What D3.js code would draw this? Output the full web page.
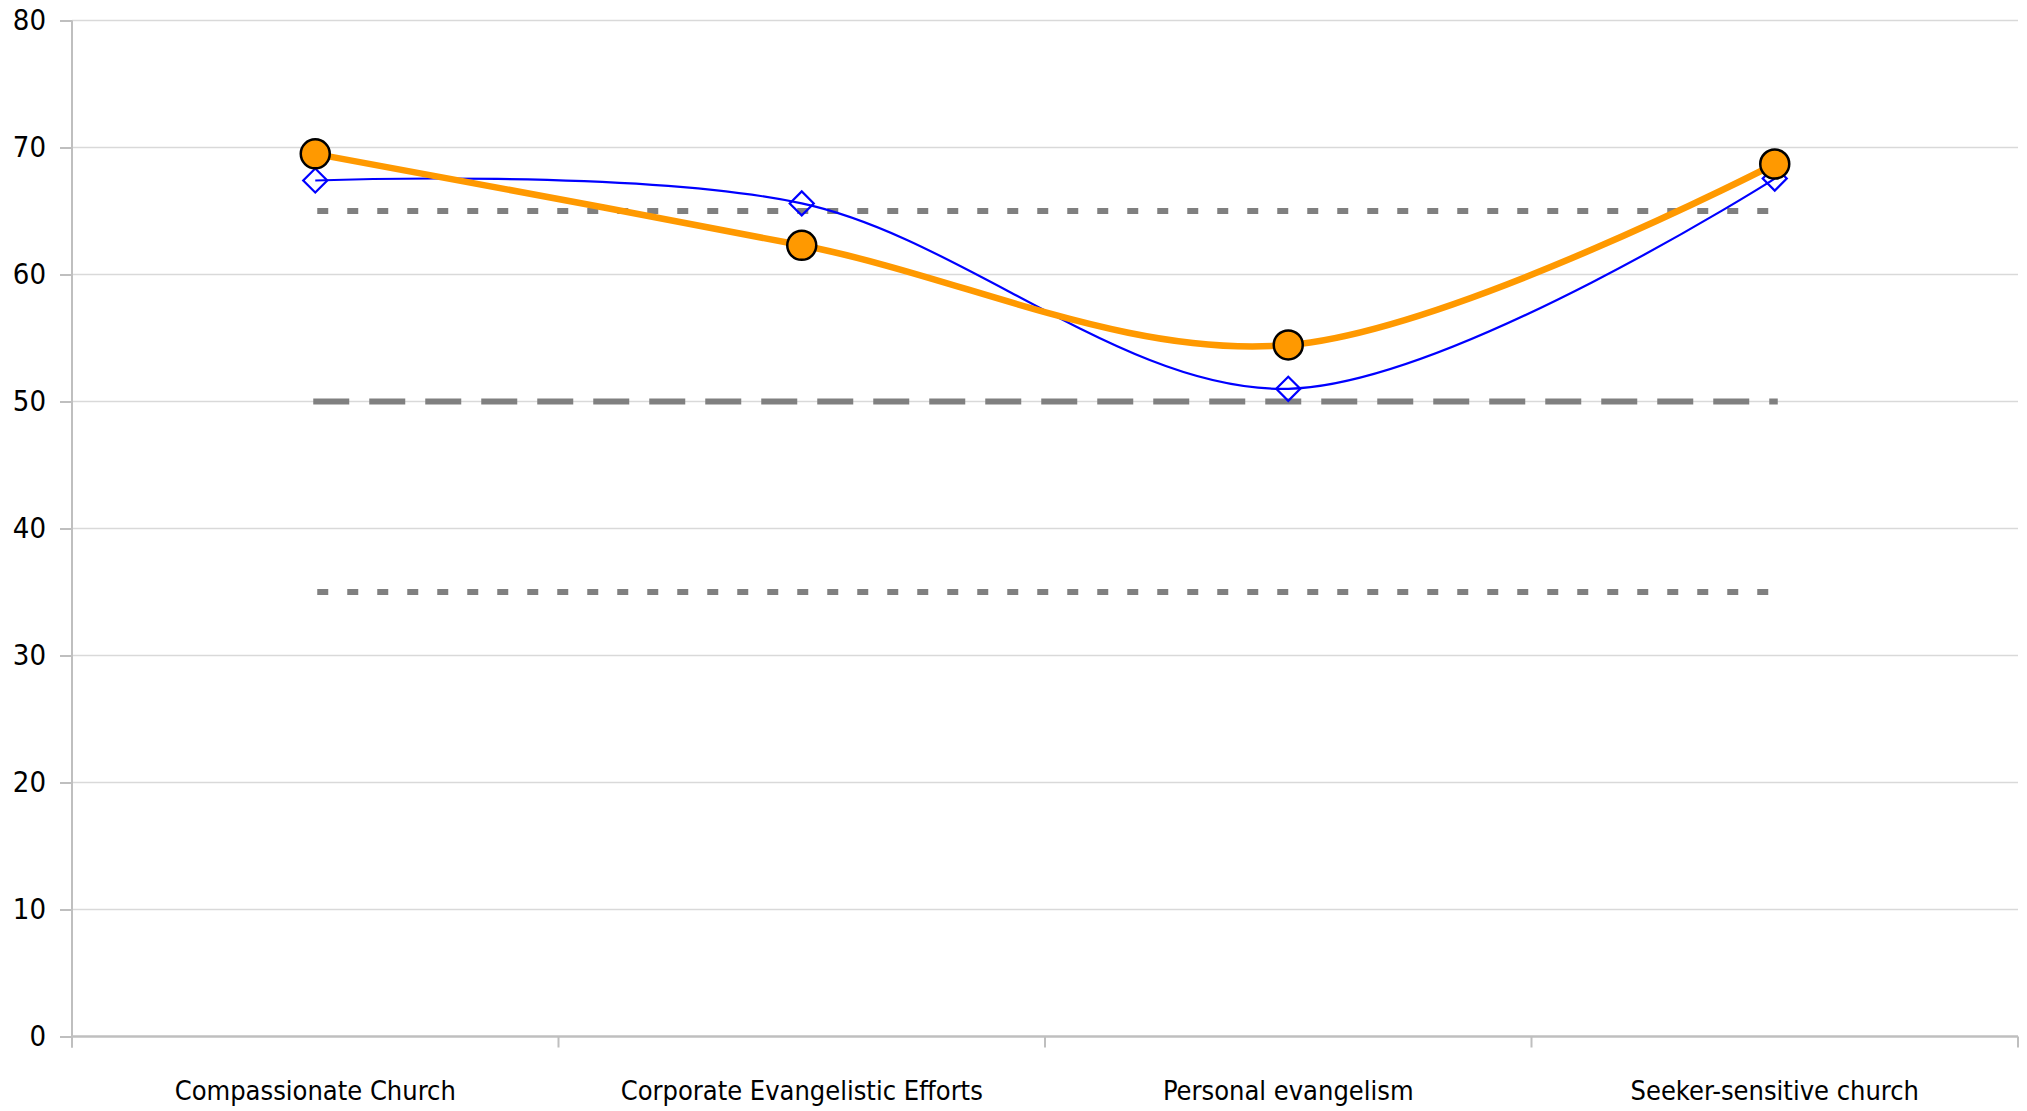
<!DOCTYPE html>
<html><head><meta charset="utf-8">
<script src="https://cdn.jsdelivr.net/npm/d3@7"></script>
<style>
html,body{margin:0;padding:0;background:#fff;}
text{font-family:"DejaVu Sans Condensed","DejaVu Sans",sans-serif;fill:#000;}
</style></head>
<body><svg id="c" width="2027" height="1111"></svg>
<script>
const categories = ["Compassionate Church","Corporate Evangelistic Efforts","Personal evangelism","Seeker-sensitive church"];
const orangeValues = [69.5, 62.3, 54.45, 68.7];
const blueValues = [67.4, 65.6, 51.0, 67.55];
const refDotted = [65, 35];
const refDashed = [50];
const yTicks = [0,10,20,30,40,50,60,70,80];

(function(){
const svg = d3.select("#c");
const pLeft = 72, pRight = 2018, pTop = 20.5, pBottom = 1036.5;
const x = d3.scaleBand().domain(categories).range([pLeft, pRight]);
const y = d3.scaleLinear().domain([0, 80]).range([pBottom, pTop]);
const cx = d => x(d) + x.bandwidth()/2;

svg.append("g").selectAll("line").data(yTicks.filter(t=>t>0)).join("line")
  .attr("x1", pLeft).attr("x2", pRight).attr("y1", d=>y(d)).attr("y2", d=>y(d))
  .attr("stroke", "#d9d9d9").attr("stroke-width", 1.5);

const yAxis = svg.append("g").attr("transform", `translate(${pLeft},0)`)
  .call(d3.axisLeft(y).tickValues(yTicks).tickSize(12).tickPadding(14).tickFormat(d3.format("d")));
yAxis.select(".domain").attr("stroke", "#bfbfbf").attr("stroke-width", 2).attr("d", `M0,${pTop}V${pBottom+11}`);
yAxis.selectAll(".tick line").attr("stroke", "#bfbfbf").attr("stroke-width", 2);
yAxis.selectAll(".tick text").attr("font-size", 29).attr("font-family", "DejaVu Sans Condensed");

const xAxis = svg.append("g").attr("transform", `translate(0,${pBottom})`)
  .call(d3.axisBottom(x).tickSize(0).tickPadding(44));
xAxis.select(".domain").attr("stroke", "#bfbfbf").attr("stroke-width", 2.5).attr("d", `M${pLeft},0H${pRight}`);
xAxis.selectAll(".tick text").attr("font-size", 27).attr("font-family", "DejaVu Sans Condensed");
const bounds = categories.map(c => x(c)).concat([pRight]);
svg.append("g").selectAll("line").data(bounds).join("line")
  .attr("x1", d=>d).attr("x2", d=>d).attr("y1", pBottom).attr("y2", pBottom+11)
  .attr("stroke", "#bfbfbf").attr("stroke-width", 2);

const x0 = cx(categories[0]), x1 = cx(categories[categories.length-1]);
svg.append("g").selectAll("line").data(refDotted).join("line")
  .attr("x1", x0+2).attr("x2", x1+3).attr("y1", d=>y(d)).attr("y2", d=>y(d))
  .attr("stroke", "#808080").attr("stroke-width", 6).attr("stroke-dasharray", "11,19");
svg.append("g").selectAll("line").data(refDashed).join("line")
  .attr("x1", x0-2).attr("x2", x1+3).attr("y1", d=>y(d)).attr("y2", d=>y(d))
  .attr("stroke", "#808080").attr("stroke-width", 6).attr("stroke-dasharray", "36,20");

const line = d3.line().x((d,i)=>cx(categories[i])).y(d=>y(d)).curve(d3.curveCatmullRom.alpha(0));

svg.append("path").datum(blueValues).attr("d", line)
  .attr("fill", "none").attr("stroke", "#0000ff").attr("stroke-width", 2.2);

svg.append("path").datum(orangeValues).attr("d", line)
  .attr("fill", "none").attr("stroke", "#ff9900").attr("stroke-width", 6.5);

svg.append("g").selectAll("path").data(blueValues).join("path")
  .attr("d", d3.symbol(d3.symbolSquare, 290))
  .attr("transform", (d,i)=>`translate(${cx(categories[i])},${y(d)}) rotate(45)`)
  .attr("fill", "none").attr("stroke", "#0000ff").attr("stroke-width", 2.2);

svg.append("g").selectAll("circle").data(orangeValues).join("circle")
  .attr("cx", (d,i)=>cx(categories[i])).attr("cy", d=>y(d)).attr("r", 14.5)
  .attr("fill", "#ff9900").attr("stroke", "#000").attr("stroke-width", 2.5);
})();
</script></body></html>
